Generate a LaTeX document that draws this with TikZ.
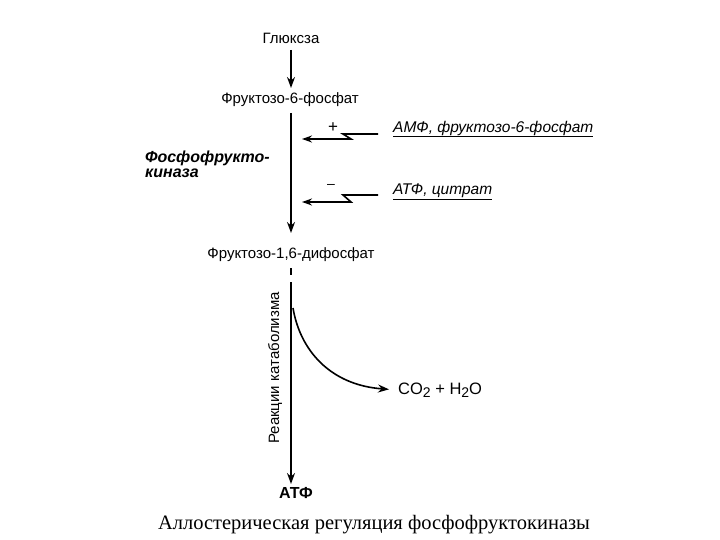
\documentclass[tikz,border=0pt]{standalone}
\usepackage{fontspec}
\setmainfont{Liberation Sans}
\newfontfamily\capfont{Liberation Serif}
\usetikzlibrary{arrows.meta}
\begin{document}
\begin{tikzpicture}[x=1pt,y=-1pt,
  lbl/.style={font=\fontsize{15}{17}\selectfont, inner sep=0pt},
  reg/.style={font=\fontsize{15.5}{17}\selectfont\itshape, inner sep=1pt, anchor=west},
  main/.style={line width=1.6pt, -{Stealth[length=11pt,width=8pt]}},
  inh/.style={line width=1.6pt, -{Stealth[length=10pt,width=7pt]}}]
\useasboundingbox (0,0) rectangle (720,540);
\node[lbl] (glu) at (291,38) {Глюксза};
\node[lbl] (f6p) at (290,100) {Фруктозо-6-фосфат};
\node[lbl] (fdp) at (291,255) {Фруктозо-1,6-дифосфат};
\node[font=\fontsize{16}{18}\selectfont\bfseries, inner sep=0pt] (atp) at (296,493) {АТФ};
\node[font=\fontsize{20.5}{24}\selectfont\capfont, inner sep=0pt] (cap) at (374,525) {Аллостерическая регуляция фосфофруктокиназы};
\draw[main] (291,50) -- (291,88);
\draw[main] (291,113) -- (291,233);
\draw[line width=1.4pt] (291,268) -- (291,275);
\draw[main] (291,282) -- (291,484);
% enzyme label
\node[font=\fontsize{16}{14.5}\selectfont\bfseries\itshape, align=left, anchor=north west, inner sep=0pt] (enz) at (145,151) {Фосфофрукто-\\киназа};
% regulators
\node[reg] (amp) at (392,129) {\underline{АМФ, фруктозо-6-фосфат}};
\node[reg] (atpc) at (392,192) {\underline{АТФ, цитрат}};
\coordinate (a1) at (378,134);
\coordinate (a2) at (343,134);
\coordinate (a3) at (351,139);
\coordinate (a4) at (302,139);
\draw[inh] (a1) -- (a2) -- (a3) -- (a4);
\node[font=\fontsize{17}{17}\selectfont, inner sep=0pt] (plus) at (333,128) {+};
\coordinate (b1) at (378,195);
\coordinate (b2) at (343,195);
\coordinate (b3) at (351,202);
\coordinate (b4) at (302,202);
\draw[inh] (b1) -- (b2) -- (b3) -- (b4);
\node[font=\fontsize{14}{14}\selectfont, inner sep=0pt] (minus) at (331,186) {--};
% catabolism
\node[lbl, rotate=90] (cat) at (275,368) {Реакции катаболизма};
\coordinate (c0) at (293,308);
\node[font=\fontsize{16.5}{18}\selectfont, inner sep=0pt, anchor=west] (co2) at (398,390) {CO\raisebox{-3.5pt}{\fontsize{14}{14}\selectfont 2} + H\raisebox{-3.5pt}{\fontsize{14}{14}\selectfont 2}O};
\draw[line width=1.6pt, -{Stealth[length=11pt,width=8pt]}, shorten >=9pt] (c0) .. controls (300,350) and (330,385) .. (co2.west);
\end{tikzpicture}
\end{document}
